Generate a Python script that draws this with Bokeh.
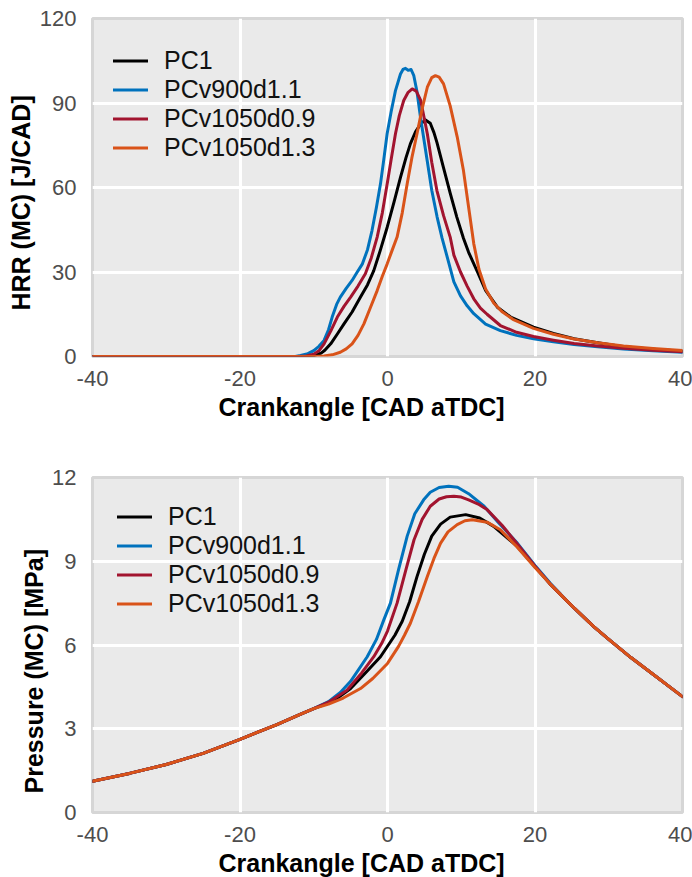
from bokeh.plotting import figure
from bokeh.layouts import column
from bokeh.models import FixedTicker, Legend, LegendItem, Range1d, Title
from bokeh.embed import file_html
from bokeh.resources import INLINE

series_names = ["PC1", "PCv900d1.1", "PCv1050d0.9", "PCv1050d1.3"]
series_colors = ["#000000", "#0072BD", "#A2142F", "#D95319"]

x_ticks = [-40, -20, 0, 20, 40]
hrr_ticks = [0, 30, 60, 90, 120]
p_ticks = [0, 3, 6, 9, 12]
x_title = "Crankangle [CAD aTDC]"
hrr_title = "HRR (MC) [J/CAD]"
p_title = "Pressure (MC) [MPa]"

# ---- Heat release rate (MC) [J/CAD] ----
hrr_pc1_x = [-40, -20, -12, -10.5, -10, -9, -8.5, -7.7, -6.8, -5.9, -4.8, -3.66, -2.7, -1.86, -1.0,
             -0.04, 0.9, 1.76, 2.5, 3.1, 3.8, 4.5, 5.15, 5.8, 6.3, 6.7, 7.6, 8.5, 9.4, 10.3, 11.0, 12.2,
             13.3, 14.9, 16.7, 19.8, 22.5, 25.3, 28.5, 32, 36, 40]
hrr_pc1_y = [0, 0, 0, 0.1, 0.3, 1.2, 2.2, 4.5, 8.0, 11.6, 15.8, 21.1, 25.5, 30.5, 37.5,
             45.9, 55.0, 63.6, 70.5, 75.5, 79.8, 82.6, 84.0, 82.8, 79.5, 76.0, 67.0, 58.0, 49.5, 42.0, 37.0, 30.0,
             23.5, 17.5, 14.0, 10.4, 8.2, 6.3, 4.9, 3.5, 2.6, 1.9]

hrr_v900_x = [-40, -20, -12.5, -11.8, -10.8, -10, -9.3, -8.6, -8.0, -7.5, -6.9, -6.4, -5.6, -4.8, -4.1,
              -3.4, -2.7, -2.1, -1.5, -0.95, -0.5, -0.05, 0.5, 1.08, 1.76, 2.1, 2.44, 2.8, 3.2, 3.57,
              4.0, 4.47, 5.38, 6.0, 6.73, 7.4, 8.1, 9.0, 9.9, 10.8, 11.7, 13.3, 15.3, 17.5, 19.8,
              22.5, 25.3, 28.5, 32, 36, 40]
hrr_v900_y = [0, 0, 0, 0.35, 1.0, 2.1, 3.6, 5.7, 9.5, 14.0, 18.5, 21.1, 24.2, 27.0, 30.0,
              32.9, 38.0, 44.7, 53.0, 61.3, 70.0, 79.1, 87.0, 94.4, 100.3, 101.9, 102.3, 101.6, 101.9, 99.7,
              94.0, 85.0, 69.6, 59.0, 49.5, 42.0, 35.3, 26.5, 21.5, 18.0, 15.2, 11.5, 9.2, 7.5, 6.3,
              5.2, 4.3, 3.5, 2.7, 2.0, 1.5]

hrr_v1050d09_x = [-40, -20, -12, -11, -10, -9.3, -8.6, -7.7, -6.8, -5.9, -5.0, -4.0, -3.0, -2.2, -1.4,
                  -0.7, -0.04, 0.5, 1.08, 1.6, 2.2, 2.8, 3.35, 3.9, 4.5, 5.4, 6.0, 6.7, 7.6, 8.5, 9.0,
                  9.9, 10.8, 11.7, 12.6, 13.5, 15.3, 17.5, 19.8, 22.5, 25.3, 28.5, 32, 36, 40]
hrr_v1050d09_y = [0, 0, 0, 0.2, 0.8, 2.0, 4.5, 9.0, 14.0, 17.8, 21.1, 25.0, 29.4, 35.0, 42.4,
                  51.0, 61.3, 70.0, 79.1, 85.5, 90.9, 93.8, 95.0, 94.2, 90.9, 79.1, 69.0, 58.9, 50.0, 42.4, 36.0,
                  30.0, 25.0, 20.5, 17.2, 15.0, 11.0, 8.6, 7.1, 5.8, 4.6, 3.7, 2.9, 2.2, 1.7]

hrr_v1050d13_x = [-40, -20, -10, -8.6, -7.5, -6.4, -5.6, -4.8, -4.0, -3.2, -2.3, -1.4, -0.7, -0.04, 0.6,
                  1.3, 2.0, 2.67, 3.3, 4.0, 4.7, 5.4, 6.0, 6.5, 7.0, 7.6, 8.5, 9.45, 10.3, 11.0, 11.7,
                  12.4, 13.3, 14.4, 15.5, 17, 19.8, 22.5, 25.3, 28.5, 32, 36, 40]
hrr_v1050d13_y = [0, 0, 0, 0.2, 0.6, 1.5, 2.7, 4.5, 7.5, 11.6, 17.5, 23.4, 28.5, 32.9, 37.5,
                  42.4, 51.0, 61.3, 70.5, 79.1, 88.0, 95.6, 99.0, 99.7, 99.2, 96.8, 89.0, 78.0, 66.0, 53.0, 40.0,
                  31.0, 24.0, 19.0, 16.0, 13.2, 10.0, 7.9, 6.2, 4.9, 3.7, 2.8, 2.1]

# ---- Pressure (MC) [MPa] ----
p_pc1_x = [-40, -35, -30, -25, -20, -15, -12, -10, -8, -6.5, -5, -3, -0.95, 1, 2, 3, 4, 5, 6, 7.2,
           8.5, 10.6, 12.5, 14.4, 17.6, 20, 22, 25, 28, 30, 33, 36, 40]
p_pc1_y = [1.12, 1.4, 1.72, 2.12, 2.62, 3.15, 3.5, 3.72, 3.93, 4.15, 4.44, 5.0, 5.58, 6.35, 6.85, 7.55, 8.45, 9.25, 9.9, 10.33,
           10.58, 10.67, 10.55, 10.25, 9.53, 8.8, 8.2, 7.4, 6.65, 6.2, 5.55, 4.95, 4.15]

p_v900_x = [-40, -35, -30, -25, -20, -15, -12, -10, -8, -6.4, -5, -2.75, -1.5, -0.5, 0.4, 1.5, 2.67, 3.7, 4.9, 5.8,
            7, 8.3, 9.5, 11, 13.1, 15, 17.6, 20, 22.1, 25, 28, 30, 33, 36, 40]
p_v900_y = [1.12, 1.4, 1.72, 2.12, 2.62, 3.15, 3.5, 3.72, 3.97, 4.3, 4.7, 5.58, 6.2, 6.9, 7.5, 8.7, 9.9, 10.7, 11.2, 11.47,
            11.64, 11.69, 11.65, 11.42, 10.97, 10.4, 9.65, 8.85, 8.2, 7.4, 6.65, 6.2, 5.55, 4.95, 4.15]

p_v1050d09_x = [-40, -35, -30, -25, -20, -15, -12, -10, -8, -5.5, -3.5, -1.86, -0.8, 0, 1.3, 2.5, 3.6, 4.7, 5.8, 7.0,
                8, 9, 10, 11, 12.3, 13.5, 15.5, 17.6, 20, 22, 25, 28, 30, 33, 36, 40]
p_v1050d09_y = [1.12, 1.4, 1.72, 2.12, 2.62, 3.15, 3.5, 3.72, 3.95, 4.38, 5.0, 5.58, 6.05, 6.5, 7.5, 8.7, 9.77, 10.5, 10.97, 11.23,
                11.31, 11.33, 11.3, 11.2, 11.05, 10.85, 10.3, 9.62, 8.82, 8.2, 7.4, 6.65, 6.2, 5.55, 4.95, 4.15]

p_v1050d13_x = [-40, -35, -30, -25, -20, -15, -12, -10, -8, -6, -3.66, -2, 0, 1.5, 2.3, 3.1, 4.2, 5.4, 6.3, 7.2,
                8.2, 9.45, 10.5, 11.5, 13.5, 15.3, 17.6, 20, 22, 25, 28, 30, 33, 36, 40]
p_v1050d13_y = [1.12, 1.4, 1.72, 2.12, 2.62, 3.15, 3.5, 3.72, 3.88, 4.1, 4.44, 4.8, 5.34, 5.95, 6.35, 6.78, 7.55, 8.45, 9.1, 9.65,
                10.05, 10.31, 10.45, 10.49, 10.4, 10.13, 9.5, 8.78, 8.2, 7.4, 6.65, 6.2, 5.55, 4.95, 4.15]

hrr_series = [(hrr_pc1_x, hrr_pc1_y), (hrr_v900_x, hrr_v900_y),
              (hrr_v1050d09_x, hrr_v1050d09_y), (hrr_v1050d13_x, hrr_v1050d13_y)]
p_series = [(p_pc1_x, p_pc1_y), (p_v900_x, p_v900_y),
            (p_v1050d09_x, p_v1050d09_y), (p_v1050d13_x, p_v1050d13_y)]

FONT = "Liberation Sans"


def make_plot(series, yticks, ylabel, frame_h, top, bottom, legend_loc, yt_offset):
    p = figure(frame_width=590, frame_height=frame_h,
               min_border_left=92, min_border_right=10,
               min_border_top=top, min_border_bottom=bottom,
               x_range=Range1d(-40, 40), y_range=Range1d(yticks[0], yticks[-1]),
               output_backend="svg", toolbar_location=None)
    p.background_fill_color = "#eaeaea"
    p.border_fill_color = "white"
    p.outline_line_color = "#d6d6d6"
    p.outline_line_width = 3

    p.xaxis.ticker = FixedTicker(ticks=x_ticks)
    p.yaxis.ticker = FixedTicker(ticks=yticks)
    p.xaxis.major_label_overrides = {t: str(t) for t in x_ticks}
    p.yaxis.major_label_overrides = {t: str(t) for t in yticks}
    p.xgrid.ticker = FixedTicker(ticks=x_ticks[1:-1])
    p.ygrid.ticker = FixedTicker(ticks=yticks[1:-1])
    for g in (p.xgrid, p.ygrid):
        g.grid_line_color = "white"
        g.grid_line_width = 3

    for ax in (p.xaxis, p.yaxis):
        ax.axis_line_color = None
        ax.major_tick_line_color = None
        ax.minor_tick_line_color = None
        ax.major_label_text_font = FONT
        ax.major_label_text_font_size = "22px"
        ax.major_label_text_color = "#4d4d4d"
    p.xaxis.major_label_standoff = 8
    p.yaxis.major_label_standoff = 10

    # axis titles, placed off-centre like the reference
    p.add_layout(Title(text=x_title, align="left", offset=126, standoff=4,
                       text_font=FONT, text_font_size="25px", text_font_style="bold",
                       text_color="#000000"), "below")
    p.add_layout(Title(text=ylabel, align="left", offset=yt_offset, standoff=4,
                       text_font=FONT, text_font_size="25px", text_font_style="bold",
                       text_color="#000000"), "left")

    items = []
    for (xs, ys), name, col in zip(series, series_names, series_colors):
        r = p.line(xs, ys, line_color=col, line_width=3, line_join="round", line_cap="round")
        items.append(LegendItem(label=name, renderers=[r]))

    leg = Legend(items=items, location=legend_loc,
                 background_fill_alpha=0, border_line_color=None,
                 label_text_font=FONT, label_text_font_size="25px", label_text_color="#111111",
                 glyph_width=35, glyph_height=29, label_height=29, spacing=0,
                 padding=0, margin=0, label_standoff=16)
    p.add_layout(leg)
    return p


p1 = make_plot(hrr_series, hrr_ticks, hrr_title, 338, 18, 84, (21, 194), 46)
p2 = make_plot(p_series, p_ticks, p_title, 335, 37, 65, (25, 194), 19)

layout = column(p1, p2, spacing=0)
open("out.html", "w").write(file_html(layout, INLINE))
